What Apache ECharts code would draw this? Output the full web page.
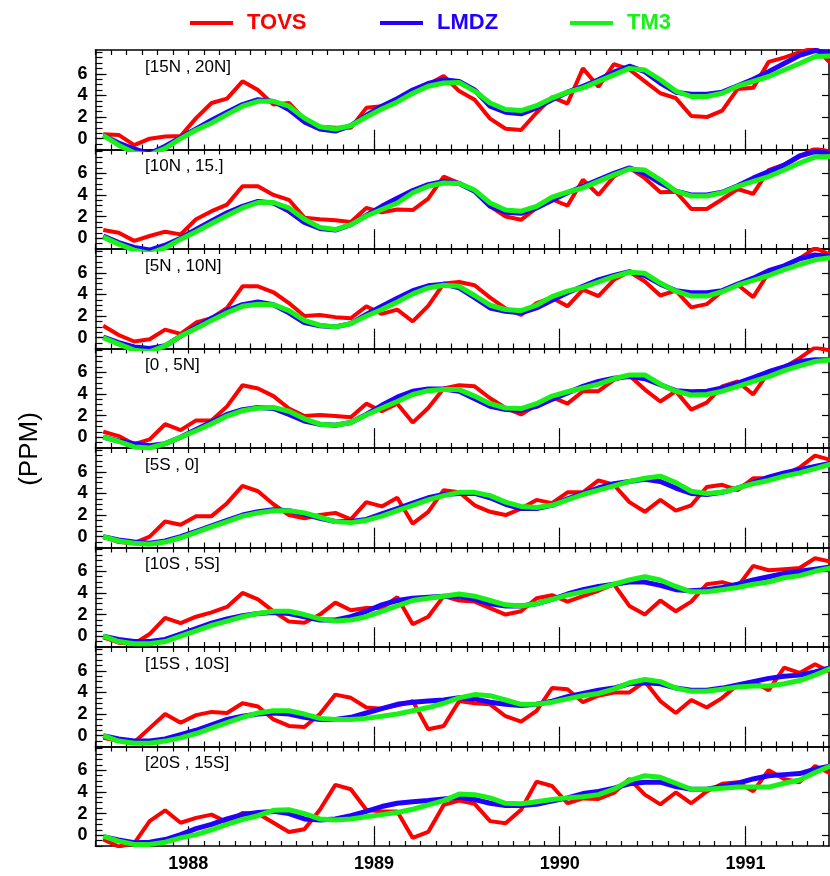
<!DOCTYPE html>
<html>
<head>
<meta charset="utf-8">
<script src="https://cdn.jsdelivr.net/npm/echarts@6/dist/echarts.min.js"></script>
<style>
html,body{margin:0;padding:0;background:#fff;}
#chart{width:830px;height:876px;}
</style>
</head>
<body>
<div id="chart"></div>
<script>
// ---- data ----
const startYear = 1987, startMonth = 7, nMonths = 48;   // monthly means, Jul 1987 .. Jun 1991
const yearTicks = [1988, 1989, 1990, 1991];
const yTickLabels = [0, 2, 4, 6];
const seriesNames = ['TOVS', 'LMDZ', 'TM3'];
const panelLabels = ['[15N , 20N]', '[10N , 15.]', '[5N , 10N]', '[0 , 5N]', '[5S , 0]', '[10S , 5S]', '[15S , 10S]', '[20S , 15S]'];

const tovs_p1 = [0.4,0.35,-0.6,0.0,0.2,0.25,1.9,3.3,3.7,5.3,4.5,3.15,3.3,1.8,1.1,1.0,1.0,2.85,3.0,3.6,4.4,5.0,5.8,4.4,3.6,1.85,0.92,0.8,2.4,3.85,3.25,6.5,4.8,6.9,6.4,5.3,4.2,3.75,2.1,2.0,2.6,4.6,4.7,7.1,7.5,8.0,8.4,7.0];
const lmdz_p1 = [0.3,-0.4,-0.95,-1.4,-0.7,0.1,0.9,1.7,2.45,3.15,3.6,3.45,2.7,1.55,0.9,0.7,1.2,2.15,3.0,3.7,4.5,5.1,5.45,5.3,4.5,3.0,2.45,2.3,2.85,3.6,4.3,4.85,5.45,6.15,6.7,6.2,5.15,4.3,4.1,4.1,4.3,4.9,5.5,6.2,6.95,7.7,8.15,7.85];
const tm3_p1  = [0.3,-0.6,-1.3,-1.5,-0.9,0.0,0.8,1.45,2.25,3.0,3.45,3.45,3.0,1.9,1.1,0.9,1.2,2.0,2.75,3.4,4.2,4.85,5.15,5.2,4.4,3.3,2.7,2.6,3.05,3.75,4.3,4.7,5.3,5.9,6.5,6.35,5.45,4.4,3.9,3.9,4.2,4.85,5.3,5.75,6.35,6.95,7.6,7.65];

const tovs_p2 = [0.75,0.5,-0.25,0.2,0.6,0.35,1.75,2.5,3.1,4.8,4.8,4.0,3.55,1.9,1.75,1.65,1.5,2.8,2.4,2.65,2.6,3.65,5.7,5.1,4.4,2.95,2.0,1.7,2.8,3.6,3.0,5.4,4.0,5.7,6.5,5.55,4.25,4.3,2.7,2.7,3.6,4.55,4.1,6.3,6.8,7.55,8.3,8.0];
const lmdz_p2 = [0.2,-0.4,-0.85,-1.1,-0.65,0.0,0.8,1.6,2.35,2.95,3.4,3.25,2.5,1.45,0.9,0.75,1.25,2.1,2.95,3.7,4.4,4.95,5.25,5.05,4.35,2.95,2.4,2.3,2.8,3.5,4.2,4.8,5.4,6.0,6.5,6.0,5.1,4.35,4.0,4.0,4.25,4.85,5.55,6.15,6.75,7.6,8.0,7.85];
const tm3_p2  = [0.1,-0.55,-1.1,-1.4,-0.9,-0.1,0.6,1.35,2.1,2.8,3.3,3.3,2.8,1.75,1.0,0.8,1.25,2.05,2.65,3.25,4.2,4.8,5.1,5.05,4.45,3.25,2.6,2.5,2.95,3.8,4.25,4.65,5.25,5.85,6.4,6.3,5.4,4.35,3.9,3.9,4.2,4.8,5.25,5.7,6.3,6.95,7.5,7.55];

const tovs_p3 = [1.1,0.25,-0.35,-0.15,0.75,0.35,1.4,1.8,2.75,4.75,4.75,4.2,3.2,2.0,2.1,1.9,1.8,2.9,2.2,2.6,1.5,2.95,5.0,5.15,4.85,3.7,2.7,2.1,3.2,3.7,2.9,4.45,3.85,5.35,6.1,5.2,3.9,4.35,2.8,3.1,4.3,4.9,3.75,6.0,6.6,7.3,8.3,7.65];
const lmdz_p3 = [0.05,-0.45,-0.85,-1.0,-0.75,0.15,1.0,1.8,2.5,3.05,3.3,3.05,2.3,1.4,1.1,1.0,1.3,2.15,2.9,3.65,4.35,4.8,4.95,4.6,3.7,2.75,2.45,2.3,2.75,3.45,4.15,4.75,5.35,5.75,6.1,5.75,4.95,4.35,4.15,4.15,4.35,4.95,5.5,6.2,6.65,7.3,7.65,7.5];
const tm3_p3  = [0.0,-0.6,-1.15,-1.3,-0.75,0.15,0.85,1.6,2.3,2.9,3.1,3.05,2.5,1.6,1.15,1.0,1.3,2.0,2.6,3.3,4.05,4.6,4.85,4.75,3.9,3.0,2.6,2.5,3.0,3.8,4.3,4.65,5.15,5.65,6.05,5.95,5.05,4.3,3.85,3.85,4.25,4.85,5.3,5.75,6.3,6.75,7.2,7.4];

const tovs_p4 = [0.5,0.1,-0.65,-0.2,1.2,0.65,1.55,1.55,2.85,4.8,4.5,3.8,2.65,1.95,2.05,1.95,1.85,3.1,2.4,3.1,1.35,2.7,4.5,4.8,4.7,3.6,2.7,2.1,3.0,3.7,3.1,4.25,4.25,5.3,5.7,4.4,3.3,4.25,2.55,3.2,4.7,5.15,3.95,6.0,6.45,7.3,8.3,8.0];
const lmdz_p4 = [0.0,-0.35,-0.6,-0.8,-0.6,0.0,0.7,1.4,2.1,2.55,2.75,2.65,2.1,1.5,1.2,1.1,1.35,2.1,2.95,3.7,4.25,4.45,4.45,4.25,3.55,2.85,2.55,2.5,2.85,3.5,4.1,4.7,5.15,5.45,5.6,5.4,4.85,4.3,4.2,4.25,4.55,5.0,5.5,6.05,6.5,7.0,7.15,7.15];
const tm3_p4  = [0.0,-0.4,-0.9,-1.0,-0.6,0.0,0.6,1.25,1.95,2.45,2.7,2.75,2.4,1.7,1.2,1.1,1.35,2.05,2.7,3.3,3.95,4.3,4.4,4.4,3.8,3.1,2.7,2.65,3.1,3.8,4.2,4.55,4.9,5.4,5.75,5.75,4.9,4.25,3.9,3.95,4.25,4.7,5.15,5.6,6.15,6.6,7.0,7.15];

const tovs_p5 = [0.0,-0.5,-0.6,0.0,1.4,1.1,1.9,1.9,3.1,4.7,4.2,3.0,2.0,1.7,2.0,2.2,1.6,3.2,2.8,3.6,1.2,2.3,4.3,4.1,2.9,2.3,2.0,2.6,3.4,3.1,4.1,4.1,5.2,4.8,3.2,2.3,3.4,2.4,2.9,4.6,4.8,4.3,5.4,5.4,5.7,6.4,7.5,7.1];
const lmdz_p5 = [0.0,-0.3,-0.5,-0.6,-0.4,0.0,0.5,1.0,1.5,2.0,2.3,2.5,2.4,2.1,1.7,1.4,1.4,1.6,2.1,2.6,3.1,3.6,3.9,4.0,4.0,3.6,3.0,2.6,2.6,2.9,3.5,4.0,4.5,4.9,5.1,5.3,5.1,4.5,4.0,3.9,4.1,4.5,5.0,5.5,5.9,6.2,6.5,6.8];
const tm3_p5  = [0.0,-0.4,-0.6,-0.7,-0.5,-0.1,0.4,0.9,1.4,1.9,2.2,2.4,2.4,2.2,1.8,1.4,1.3,1.5,1.9,2.4,2.9,3.4,3.8,4.1,4.1,3.8,3.2,2.8,2.7,2.9,3.4,3.9,4.3,4.7,5.1,5.4,5.6,5.0,4.2,4.0,4.1,4.5,4.9,5.2,5.6,5.9,6.3,6.7];

const tovs_p6 = [-0.1,-0.6,-0.7,0.2,1.7,1.2,1.8,2.2,2.7,4.0,3.4,2.3,1.35,1.25,2.0,3.1,2.4,2.6,2.6,3.6,1.1,1.8,3.7,3.3,3.2,2.6,2.0,2.3,3.5,3.8,3.2,3.7,4.2,4.8,2.8,2.0,3.3,2.3,3.2,4.8,5.0,4.6,6.5,6.1,6.2,6.3,7.2,6.9];
const lmdz_p6 = [0.0,-0.3,-0.5,-0.5,-0.3,0.2,0.7,1.2,1.6,1.9,2.1,2.2,2.1,1.8,1.5,1.5,1.8,2.3,2.9,3.3,3.5,3.6,3.7,3.7,3.4,3.0,2.8,2.8,3.0,3.4,3.9,4.3,4.6,4.8,5.0,5.0,4.7,4.3,4.2,4.3,4.5,4.8,5.2,5.5,5.8,6.0,6.2,6.4];
const tm3_p6  = [0.0,-0.5,-0.7,-0.7,-0.5,0.0,0.5,1.0,1.4,1.8,2.1,2.3,2.3,2.0,1.6,1.4,1.5,1.8,2.3,2.8,3.3,3.5,3.7,3.9,3.7,3.3,2.9,2.8,3.0,3.4,3.8,4.1,4.4,4.8,5.2,5.5,5.2,4.6,4.1,4.1,4.3,4.5,4.8,5.0,5.4,5.6,6.0,6.3];

const tovs_p7 = [-0.2,-0.5,-0.6,0.7,2.0,1.2,1.9,2.2,2.1,3.0,2.7,1.5,0.9,0.8,2.0,3.8,3.5,2.6,2.5,2.8,3.2,0.6,0.9,3.2,3.0,2.9,1.8,1.3,2.3,4.4,4.3,3.1,3.7,4.0,4.0,5.0,3.2,2.1,3.3,2.6,3.5,4.7,5.0,4.2,6.3,5.8,6.6,5.9];
const lmdz_p7 = [0.0,-0.3,-0.5,-0.5,-0.3,0.1,0.5,1.0,1.5,1.8,2.0,2.1,2.0,1.7,1.5,1.5,1.7,2.1,2.5,2.9,3.1,3.2,3.3,3.5,3.4,3.1,2.9,2.8,2.9,3.2,3.6,3.9,4.2,4.4,4.8,4.9,4.8,4.4,4.2,4.2,4.4,4.7,5.0,5.3,5.5,5.6,5.9,6.3];
const tm3_p7  = [0.0,-0.5,-0.7,-0.7,-0.5,-0.2,0.2,0.7,1.2,1.7,2.1,2.3,2.3,2.0,1.6,1.5,1.5,1.6,1.8,2.0,2.3,2.6,3.0,3.5,3.8,3.7,3.3,2.9,2.9,3.1,3.4,3.7,3.9,4.3,4.9,5.2,5.0,4.4,4.1,4.1,4.3,4.5,4.6,4.6,4.8,5.1,5.6,6.2];

const tovs_p8 = [-0.4,-1.05,-0.75,1.3,2.3,1.15,1.6,1.9,1.2,2.05,2.0,1.15,0.3,0.55,2.35,4.65,4.25,2.35,2.2,2.2,-0.25,0.3,2.8,3.2,2.9,1.3,1.1,2.35,4.95,4.55,2.95,3.4,3.35,3.9,5.2,3.75,2.85,3.95,2.95,4.05,4.75,4.9,4.05,6.0,5.2,4.9,6.4,5.7];
const lmdz_p8 = [-0.15,-0.45,-0.7,-0.65,-0.4,0.05,0.6,1.0,1.5,1.9,2.1,2.2,2.0,1.5,1.4,1.5,1.8,2.2,2.65,2.95,3.1,3.2,3.35,3.5,3.3,2.95,2.75,2.75,2.85,3.15,3.45,3.85,4.05,4.35,4.75,4.9,4.9,4.5,4.25,4.25,4.5,4.8,5.2,5.5,5.6,5.7,6.1,6.4];
const tm3_p8  = [-0.1,-0.55,-0.85,-0.85,-0.65,-0.25,0.05,0.5,1.0,1.45,1.8,2.3,2.35,2.0,1.5,1.4,1.5,1.7,1.9,2.1,2.4,2.8,3.2,3.8,3.75,3.45,2.95,2.9,3.1,3.3,3.45,3.55,3.75,4.25,5.05,5.5,5.35,4.8,4.25,4.25,4.35,4.45,4.45,4.45,4.8,5.1,5.8,6.4];

const panels = [
  [tovs_p1, lmdz_p1, tm3_p1], [tovs_p2, lmdz_p2, tm3_p2], [tovs_p3, lmdz_p3, tm3_p3], [tovs_p4, lmdz_p4, tm3_p4],
  [tovs_p5, lmdz_p5, tm3_p5], [tovs_p6, lmdz_p6, tm3_p6], [tovs_p7, lmdz_p7, tm3_p7], [tovs_p8, lmdz_p8, tm3_p8]
];

// ---- derived ----
const times = [];
for (let i = 0; i < nMonths; i++) {
  const m = startMonth - 1 + i;
  times.push(startYear + (m + 0.5) / 12);
}
const monthBounds = [];
for (let i = 0; i <= nMonths; i++) monthBounds.push(startYear + (startMonth - 1 + i) / 12);
const yMinor = [];
for (let v = -1; v <= 8.001; v += 0.5) yMinor.push(Math.round(v * 10) / 10);

const colors = ['#ff0000', '#2200ff', '#19f019'];
const widths = [4, 5, 5];
const X_MIN = 1987.5, X_MAX = 1991.45, Y_MIN = -1, Y_MAX = 8.2;
const GRID_LEFT = 95.5, GRID_W = 733.5, GRID_TOP = 50, PANEL_H = 99.5;
const FONT = 'Liberation Sans, Arial, Helvetica, sans-serif';
const legendLeft = [190, 380, 570];

const grid = [], xAxis = [], yAxis = [], series = [], title = [];
panels.forEach((pan, k) => {
  const top = GRID_TOP + k * PANEL_H;
  grid.push({left: GRID_LEFT, top: top, width: GRID_W, height: PANEL_H, containLabel: false});
  const axisLine = {show: true, onZero: false, lineStyle: {color: '#000', width: 1.5}};
  const noLine = {show: false};
  const tickStyle = {color: '#000', width: 1.2};
  const baseX = {gridIndex: k, type: 'value', min: X_MIN, max: X_MAX, splitLine: {show: false}};
  xAxis.push(Object.assign({}, baseX, {position: 'bottom', axisLine,
    axisTick: {show: true, inside: true, length: 5, customValues: monthBounds, lineStyle: tickStyle},
    axisLabel: {show: k === panels.length - 1, customValues: yearTicks, formatter: v => String(Math.round(v)),
      color: '#000', fontSize: 18, fontWeight: 'bold', fontFamily: FONT, margin: 9}}));
  xAxis.push(Object.assign({}, baseX, {position: 'bottom', axisLine: noLine,
    axisTick: {show: true, inside: true, length: 9, customValues: yearTicks, lineStyle: tickStyle},
    axisLabel: {show: false}}));
  xAxis.push(Object.assign({}, baseX, {position: 'top', axisLine,
    axisTick: {show: true, inside: true, length: 5, customValues: monthBounds, lineStyle: tickStyle},
    axisLabel: {show: false}}));
  xAxis.push(Object.assign({}, baseX, {position: 'top', axisLine: noLine,
    axisTick: {show: true, inside: true, length: 9, customValues: yearTicks, lineStyle: tickStyle},
    axisLabel: {show: false}}));
  const baseY = {gridIndex: k, type: 'value', min: Y_MIN, max: Y_MAX, splitLine: {show: false}};
  yAxis.push(Object.assign({}, baseY, {position: 'left', axisLine,
    axisTick: {show: true, inside: true, length: 7, customValues: yMinor, lineStyle: tickStyle},
    axisLabel: {show: true, customValues: yTickLabels, color: '#000', fontSize: 18, fontWeight: 'bold', fontFamily: FONT, margin: 8}}));
  yAxis.push(Object.assign({}, baseY, {position: 'left', axisLine: noLine,
    axisTick: {show: true, inside: true, length: 11, customValues: yTickLabels, lineStyle: tickStyle},
    axisLabel: {show: false}}));
  yAxis.push(Object.assign({}, baseY, {position: 'right', axisLine,
    axisTick: {show: true, inside: true, length: 7, customValues: yTickLabels, lineStyle: tickStyle},
    axisLabel: {show: false}}));
  pan.forEach((vals, s) => {
    series.push({
      name: seriesNames[s], type: 'line', xAxisIndex: k * 4, yAxisIndex: k * 3,
      data: vals.map((v, i) => [times[i], v]),
      symbol: 'none', clip: true, silent: true, animation: false,
      lineStyle: {color: colors[s], width: widths[s]}, itemStyle: {color: colors[s]},
      z: 2 + s
    });
  });
  title.push({text: panelLabels[k], left: 145, top: top + 8.5, padding: 0,
    textStyle: {fontSize: 17, fontWeight: 'normal', fontFamily: FONT, color: '#000'}});
});

const legend = seriesNames.map((n, s) => ({
  left: legendLeft[s], top: 12, padding: 0, icon: 'rect', itemWidth: 43, itemHeight: 4, selectedMode: false,
  data: [{name: n, textStyle: {color: colors[s]}}],
  textStyle: {fontSize: 22, fontWeight: 'bold', fontFamily: FONT, padding: [0, 0, 0, 9]}
}));

const chart = echarts.init(document.getElementById('chart'), null, {renderer: 'canvas'});
chart.setOption({
  backgroundColor: '#fff',
  animation: false,
  title: title,
  legend: legend,
  graphic: [{
    type: 'text', x: 30, y: 449, rotation: Math.PI / 2,
    style: {text: '(PPM)', fontSize: 26, fontFamily: FONT, fill: '#000', align: 'center', verticalAlign: 'middle'}
  }],
  grid: grid, xAxis: xAxis, yAxis: yAxis, series: series
});
</script>
</body>
</html>
